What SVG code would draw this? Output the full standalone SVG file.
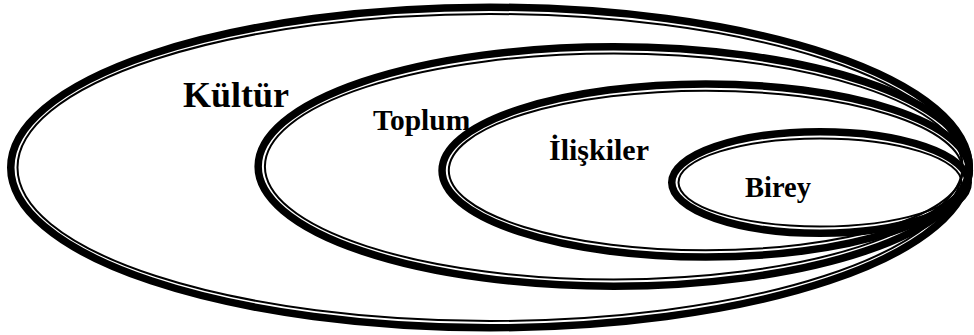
<svg xmlns="http://www.w3.org/2000/svg" width="974" height="335" viewBox="0 0 974 335">
<style>
.thick{fill:none;stroke:#000;stroke-width:7.5}
.thin{fill:none;stroke:#000;stroke-width:2}
.lbl{font-family:"Liberation Serif","Times New Roman",serif;font-weight:bold;fill:#000}
</style>
<rect width="974" height="335" fill="#fff"/>
<g id="kultur">
<ellipse class="thick" cx="490" cy="167.5" rx="479.25" ry="160.25"/>
<ellipse class="thin" cx="490" cy="167.5" rx="472.5" ry="153.5"/>
<text class="lbl" x="183" y="107" font-size="36">Kültür</text>
</g>
<g id="toplum">
<ellipse class="thick" cx="613.7" cy="166.5" rx="355.55" ry="119.75"/>
<ellipse class="thin" cx="613.7" cy="166.5" rx="348.8" ry="113"/>
<text class="lbl" x="373" y="130" font-size="29.5">Toplum</text>
</g>
<g id="iliskiler">
<ellipse class="thick" cx="705.7" cy="170.5" rx="263.65" ry="86.55"/>
<ellipse class="thin" cx="705.7" cy="170.5" rx="256.9" ry="79.8"/>
<text class="lbl" x="549" y="160" font-size="30">İlişkiler</text>
</g>
<g id="birey">
<ellipse class="thick" cx="820" cy="182.5" rx="148.25" ry="50.75"/>
<ellipse class="thin" cx="820" cy="182.5" rx="141.5" ry="44"/>
<text class="lbl" x="745" y="197" font-size="28.5">Birey</text>
</g>
</svg>
